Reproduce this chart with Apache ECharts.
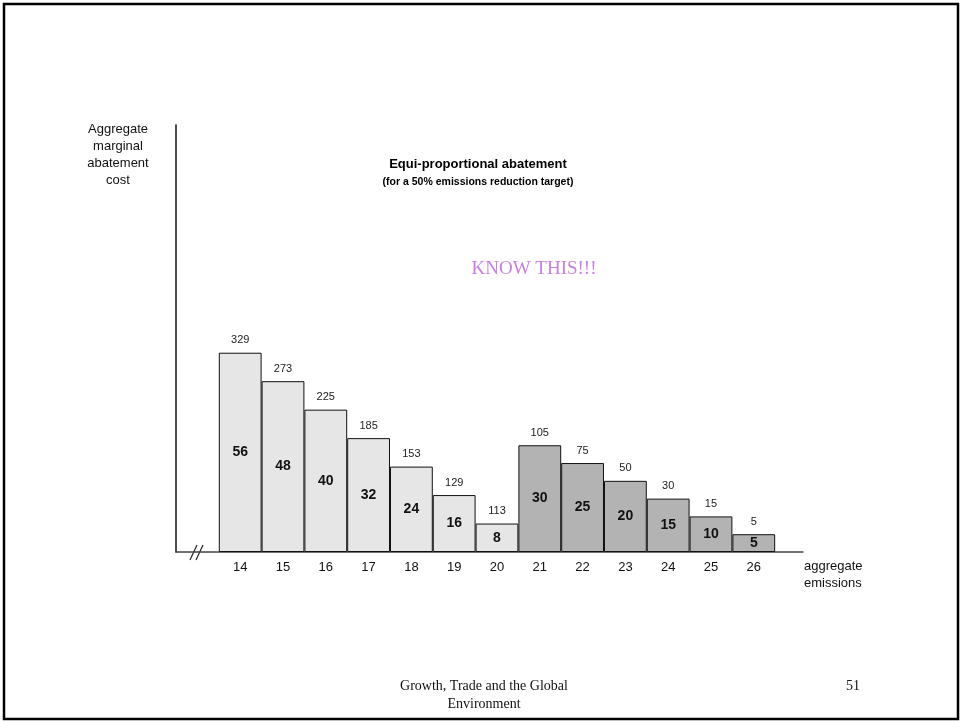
<!DOCTYPE html>
<html>
<head>
<meta charset="utf-8">
<script src="https://cdn.jsdelivr.net/npm/echarts@6/dist/echarts.min.js"></script>
<style>
html,body{margin:0;padding:0;background:#fff;}
#chart{width:960px;height:721px;}
</style>
</head>
<body>
<div id="chart"></div>
<script>
const categories = [14, 15, 16, 17, 18, 19, 20, 21, 22, 23, 24, 25, 26];
const barHeights = [56, 48, 40, 32, 24, 16, 8, 30, 25, 20, 15, 10, 5];
const topLabels = [329, 273, 225, 185, 153, 129, 113, 105, 75, 50, 30, 15, 5];
const groups = ['light', 'light', 'light', 'light', 'light', 'light', 'light', 'dark', 'dark', 'dark', 'dark', 'dark', 'dark'];
const xTickLabels = categories.slice();

const groupColor = { light: '#e6e6e6', dark: '#b3b3b3' };

const chart = echarts.init(document.getElementById('chart'), null, { renderer: 'canvas' });

const sans = 'Liberation Sans, Arial, sans-serif';
const serif = 'Liberation Serif, Times New Roman, serif';

const option = {
  backgroundColor: '#fff',
  animation: false,
  grid: { left: 176, top: 125, width: 627, height: 427, containLabel: false },
  xAxis: {
    type: 'value',
    min: 12.5,
    max: 27.15,
    axisLine: { show: true, lineStyle: { color: '#444', width: 1.5 } },
    axisTick: { show: false },
    splitLine: { show: false },
    axisLabel: {
      customValues: xTickLabels,
      fontFamily: sans,
      fontSize: 13,
      color: '#111',
      margin: 9,
      formatter: v => String(v)
    }
  },
  yAxis: {
    type: 'value',
    min: 0,
    max: 120,
    axisLine: { show: true, lineStyle: { color: '#111', width: 1.5 } },
    axisTick: { show: false },
    axisLabel: { show: false },
    splitLine: { show: false }
  },
  series: [
    {
      type: 'bar',
      barWidth: 42.8,
      barGap: '-100%',
      z: 2,
      data: categories.map((c, i) => ({
        value: [c, barHeights[i]],
        itemStyle: { color: groupColor[groups[i]] }
      })),
      itemStyle: { borderColor: '#111', borderWidth: 1 },
      label: {
        show: true,
        position: 'inside',
        fontFamily: sans,
        fontWeight: 'bold',
        fontSize: 14,
        color: '#111',
        formatter: p => String(p.value[1])
      }
    },
    {
      type: 'bar',
      barWidth: 42.8,
      barGap: '-100%',
      z: 3,
      silent: true,
      data: categories.map((c, i) => ({ value: [c, barHeights[i]] })),
      itemStyle: { color: 'rgba(0,0,0,0)', borderWidth: 0 },
      label: {
        show: true,
        position: 'top',
        distance: 7,
        fontFamily: sans,
        fontSize: 11,
        color: '#222',
        formatter: p => String(topLabels[p.dataIndex])
      }
    }
  ],
  graphic: [
    {
      type: 'rect',
      shape: { x: 4, y: 4, width: 954, height: 715 },
      style: { fill: 'none', stroke: '#000', lineWidth: 2.5 },
      silent: true
    },
    {
      type: 'line',
      shape: { x1: 190, y1: 560, x2: 197, y2: 545 },
      style: { stroke: '#222', lineWidth: 1.2 }
    },
    {
      type: 'line',
      shape: { x1: 196, y1: 560, x2: 203, y2: 545 },
      style: { stroke: '#222', lineWidth: 1.2 }
    },
    {
      type: 'text',
      x: 118, y: 121,
      style: {
        text: 'Aggregate\nmarginal\nabatement\ncost',
        font: '13px ' + sans,
        fill: '#111',
        align: 'center',
        verticalAlign: 'top',
        lineHeight: 17
      }
    },
    {
      type: 'text',
      x: 478, y: 164,
      style: {
        text: 'Equi-proportional abatement',
        font: 'bold 13px ' + sans,
        fill: '#000',
        align: 'center',
        verticalAlign: 'middle'
      }
    },
    {
      type: 'text',
      x: 478, y: 182,
      style: {
        text: '(for a 50% emissions reduction target)',
        font: 'bold 10.5px ' + sans,
        fill: '#000',
        align: 'center',
        verticalAlign: 'middle'
      }
    },
    {
      type: 'text',
      x: 534, y: 269,
      style: {
        text: 'KNOW THIS!!!',
        font: '19px ' + serif,
        fill: '#c77fe6',
        align: 'center',
        verticalAlign: 'middle'
      }
    },
    {
      type: 'text',
      x: 804, y: 558,
      style: {
        text: 'aggregate\nemissions',
        font: '13px ' + sans,
        fill: '#111',
        align: 'left',
        verticalAlign: 'top',
        lineHeight: 17
      }
    },
    {
      type: 'text',
      x: 484, y: 677,
      style: {
        text: 'Growth, Trade and the Global\nEnvironment',
        font: '14px ' + serif,
        fill: '#111',
        align: 'center',
        verticalAlign: 'top',
        lineHeight: 18
      }
    },
    {
      type: 'text',
      x: 853, y: 686,
      style: {
        text: '51',
        font: '14px ' + serif,
        fill: '#111',
        align: 'center',
        verticalAlign: 'middle'
      }
    }
  ]
};

chart.setOption(option);
</script>
</body>
</html>
